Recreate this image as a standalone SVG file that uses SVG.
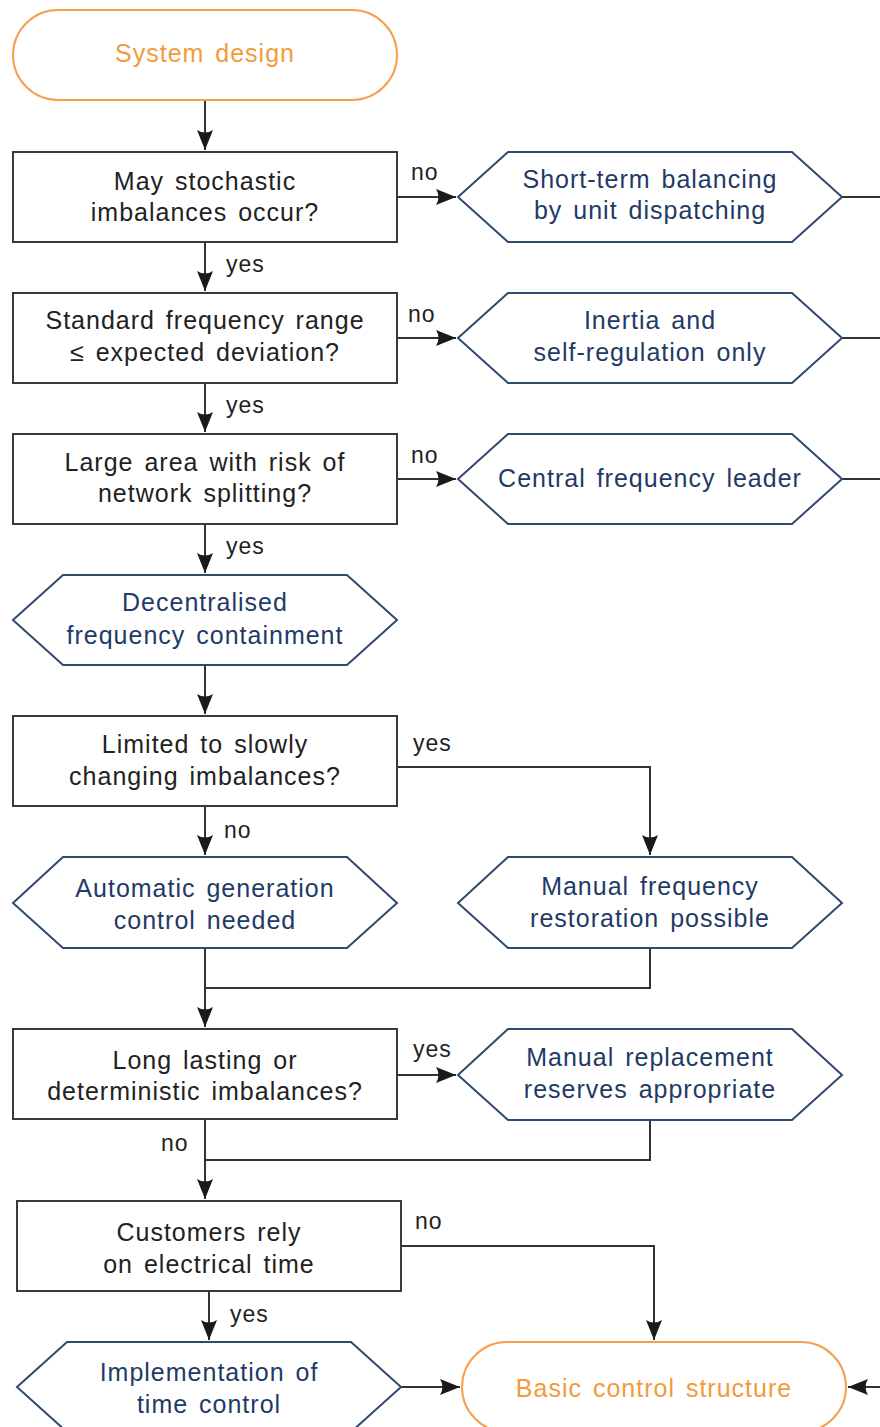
<svg xmlns="http://www.w3.org/2000/svg" width="880" height="1427" viewBox="0 0 880 1427">
  <style>
    .box { fill: #ffffff; stroke: #3a3a3a; stroke-width: 2; }
    .hex { fill: #ffffff; stroke: #2f4a6d; stroke-width: 2; }
    .term { fill: #ffffff; stroke: #f5a050; stroke-width: 2; }
    .t { font-family: "Liberation Sans", "DejaVu Sans", sans-serif; font-size: 25px; letter-spacing: 1px; word-spacing: 3px; text-anchor: middle; }
    .tb { fill: #222222; }
    .th { fill: #1f3a66; }
    .to { fill: #f39a3c; }
    .lbl { font-family: "Liberation Sans", "DejaVu Sans", sans-serif; font-size: 23px; letter-spacing: 1px; fill: #222222; }
    .edge { fill: none; stroke: #333333; stroke-width: 2; }
  </style>
  <defs>
    <marker id="arrow" markerUnits="userSpaceOnUse" markerWidth="22" markerHeight="16" refX="20" refY="8" orient="auto">
      <path d="M0,0 L20,8 L0,16 Q5,8 0,0 z" fill="#1a1a1a"/>
    </marker>
  </defs>

  <rect width="880" height="1427" fill="#ffffff"/>

  <!-- connectors -->
  <g id="connectors">
    <path class="edge" d="M205,100 V150" marker-end="url(#arrow)"/>
    <path class="edge" d="M397,197 H456" marker-end="url(#arrow)"/>
    <path class="edge" d="M842,197 H880"/>
    <path class="edge" d="M205,242 V291" marker-end="url(#arrow)"/>
    <path class="edge" d="M397,338 H456" marker-end="url(#arrow)"/>
    <path class="edge" d="M842,338 H880"/>
    <path class="edge" d="M205,383 V432" marker-end="url(#arrow)"/>
    <path class="edge" d="M397,479 H456" marker-end="url(#arrow)"/>
    <path class="edge" d="M842,479 H880"/>
    <path class="edge" d="M205,524 V573" marker-end="url(#arrow)"/>
    <path class="edge" d="M205,665 V714" marker-end="url(#arrow)"/>
    <path class="edge" d="M397,767 H650 V855" marker-end="url(#arrow)"/>
    <path class="edge" d="M205,806 V855" marker-end="url(#arrow)"/>
    <path class="edge" d="M205,948 V1027" marker-end="url(#arrow)"/>
    <path class="edge" d="M650,948 V988 H205"/>
    <path class="edge" d="M397,1075 H456" marker-end="url(#arrow)"/>
    <path class="edge" d="M205,1119 V1199" marker-end="url(#arrow)"/>
    <path class="edge" d="M650,1120 V1160 H205"/>
    <path class="edge" d="M401,1246 H654 V1340" marker-end="url(#arrow)"/>
    <path class="edge" d="M209,1291 V1340" marker-end="url(#arrow)"/>
    <path class="edge" d="M401,1387 H460" marker-end="url(#arrow)"/>
    <path class="edge" d="M880,1387 H848" marker-end="url(#arrow)"/>

    <text class="lbl" x="411" y="180">no</text>
    <text class="lbl" x="226" y="272">yes</text>
    <text class="lbl" x="408" y="322">no</text>
    <text class="lbl" x="226" y="413">yes</text>
    <text class="lbl" x="411" y="463">no</text>
    <text class="lbl" x="226" y="554">yes</text>
    <text class="lbl" x="413" y="751">yes</text>
    <text class="lbl" x="224" y="838">no</text>
    <text class="lbl" x="413" y="1057">yes</text>
    <text class="lbl" x="161" y="1151">no</text>
    <text class="lbl" x="415" y="1229">no</text>
    <text class="lbl" x="230" y="1322">yes</text>
  </g>

  <g id="start">
    <rect class="term" x="13" y="10" width="384" height="90" rx="45" ry="45"/>
    <text class="t to" x="205" y="62">System design</text>
  </g>

  <g id="q-stochastic">
    <rect class="box" x="13" y="152" width="384" height="90"/>
    <text class="t tb" x="205" y="190">May stochastic</text>
    <text class="t tb" x="205" y="221">imbalances occur?</text>
  </g>
  <g id="a-dispatching">
    <polygon class="hex" points="458,197 508,152 792,152 842,197 792,242 508,242"/>
    <text class="t th" x="650" y="188">Short-term balancing</text>
    <text class="t th" x="650" y="219">by unit dispatching</text>
  </g>

  <g id="q-frequency-range">
    <rect class="box" x="13" y="293" width="384" height="90"/>
    <text class="t tb" x="205" y="329">Standard frequency range</text>
    <text class="t tb" x="205" y="361">≤ expected deviation?</text>
  </g>
  <g id="a-inertia">
    <polygon class="hex" points="458,338 508,293 792,293 842,338 792,383 508,383"/>
    <text class="t th" x="650" y="329">Inertia and</text>
    <text class="t th" x="650" y="361">self-regulation only</text>
  </g>

  <g id="q-large-area">
    <rect class="box" x="13" y="434" width="384" height="90"/>
    <text class="t tb" x="205" y="471">Large area with risk of</text>
    <text class="t tb" x="205" y="502">network splitting?</text>
  </g>
  <g id="a-central-leader">
    <polygon class="hex" points="458,479 508,434 792,434 842,479 792,524 508,524"/>
    <text class="t th" x="650" y="487">Central frequency leader</text>
  </g>

  <g id="a-decentralised">
    <polygon class="hex" points="13,620 63,575 347,575 397,620 347,665 63,665"/>
    <text class="t th" x="205" y="611">Decentralised</text>
    <text class="t th" x="205" y="644">frequency containment</text>
  </g>

  <g id="q-slowly-changing">
    <rect class="box" x="13" y="716" width="384" height="90"/>
    <text class="t tb" x="205" y="753">Limited to slowly</text>
    <text class="t tb" x="205" y="785">changing imbalances?</text>
  </g>

  <g id="a-agc">
    <polygon class="hex" points="13,903 63,857 347,857 397,903 347,948 63,948"/>
    <text class="t th" x="205" y="897">Automatic generation</text>
    <text class="t th" x="205" y="929">control needed</text>
  </g>
  <g id="a-manual-restoration">
    <polygon class="hex" points="458,903 508,857 792,857 842,903 792,948 508,948"/>
    <text class="t th" x="650" y="895">Manual frequency</text>
    <text class="t th" x="650" y="927">restoration possible</text>
  </g>

  <g id="q-long-lasting">
    <rect class="box" x="13" y="1029" width="384" height="90"/>
    <text class="t tb" x="205" y="1069">Long lasting or</text>
    <text class="t tb" x="205" y="1100">deterministic imbalances?</text>
  </g>
  <g id="a-replacement">
    <polygon class="hex" points="458,1075 508,1029 792,1029 842,1075 792,1120 508,1120"/>
    <text class="t th" x="650" y="1066">Manual replacement</text>
    <text class="t th" x="650" y="1098">reserves appropriate</text>
  </g>

  <g id="q-electrical-time">
    <rect class="box" x="17" y="1201" width="384" height="90"/>
    <text class="t tb" x="209" y="1241">Customers rely</text>
    <text class="t tb" x="209" y="1273">on electrical time</text>
  </g>

  <g id="a-time-control">
    <polygon class="hex" points="17,1387 67,1342 351,1342 401,1387 351,1432 67,1432"/>
    <text class="t th" x="209" y="1381">Implementation of</text>
    <text class="t th" x="209" y="1413">time control</text>
  </g>

  <g id="end">
    <rect class="term" x="462" y="1342" width="384" height="90" rx="45" ry="45"/>
    <text class="t to" x="654" y="1397">Basic control structure</text>
  </g>
</svg>
